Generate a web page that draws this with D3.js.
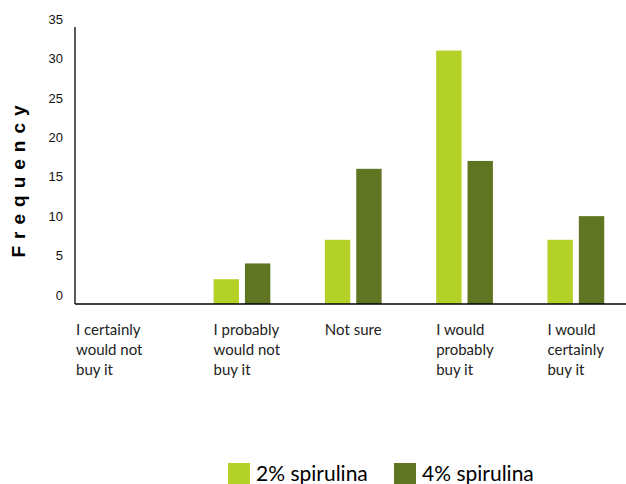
<!DOCTYPE html>
<html>
<head>
<meta charset="utf-8">
<script src="https://cdn.jsdelivr.net/npm/d3@7"></script>
<style>
  html, body { margin: 0; padding: 0; background: #fff; }
  svg { display: block; }
</style>
</head>
<body>
<svg id="chart" width="626" height="484"></svg>
<script>
// ---- data ----
const categories = [
  "I certainly would not buy it",
  "I probably would not buy it",
  "Not sure",
  "I would probably buy it",
  "I would certainly buy it"
];
const categoryLines = [
  ["I certainly", "would not", "buy it"],
  ["I probably", "would not", "buy it"],
  ["Not sure"],
  ["I would", "probably", "buy it"],
  ["I would", "certainly", "buy it"]
];
const seriesNames = ["2% spirulina", "4% spirulina"];
const spirulina2 = [0, 2, 7, 31, 7];
const spirulina4 = [0, 4, 16, 17, 10];
const yTicks = [0, 5, 10, 15, 20, 25, 30, 35];
const colors = ["#b4d128", "#5f7522"];

// ---- layout ----
const svg = d3.select("#chart");
const plotLeft = 75, plotRight = 631.5, plotTop = 27, plotBottom = 304;

const x0 = d3.scaleBand().domain(categories).range([plotLeft, plotRight])
  .paddingInner(0.49).paddingOuter(0.245);
const x1 = d3.scaleBand().domain(seriesNames).range([0, x0.bandwidth()])
  .paddingInner(0.19).paddingOuter(0);
const y = d3.scaleLinear().domain([0, 35]).range([295, 19]);

const seriesValues = [spirulina2, spirulina4];

// bars
seriesNames.forEach((s, si) => {
  svg.append("g").selectAll("rect")
    .data(categories.map((c, i) => ({c, v: seriesValues[si][i]})))
    .join("rect")
    .attr("x", d => x0(d.c) + x1(s))
    .attr("width", x1.bandwidth())
    .attr("y", d => y(d.v))
    .attr("height", d => d.v > 0 ? plotBottom - y(d.v) : 0)
    .attr("fill", colors[si]);
});

// y axis
const yAxis = d3.axisLeft(y).tickValues(yTicks).tickSize(0).tickPadding(12);
const gy = svg.append("g").attr("transform", `translate(${plotLeft},0)`).call(yAxis);
gy.select(".domain").remove();
gy.selectAll("text")
  .attr("font-family", "Liberation Sans, Arial, sans-serif")
  .attr("font-size", 13).attr("fill", "#111");

svg.append("line").attr("x1", plotLeft).attr("x2", plotLeft)
  .attr("y1", plotTop).attr("y2", plotBottom)
  .attr("stroke", "#000").attr("stroke-width", 1.3);
svg.append("line").attr("x1", plotLeft).attr("x2", 626)
  .attr("y1", plotBottom).attr("y2", plotBottom)
  .attr("stroke", "#000").attr("stroke-width", 1.5);

// y title
svg.append("text")
  .attr("transform", "translate(25,178) rotate(-90)")
  .attr("text-anchor", "middle")
  .attr("font-family", "Liberation Sans, Arial, sans-serif")
  .attr("font-weight", "bold").attr("font-size", 19)
  .attr("letter-spacing", "7px")
  .attr("fill", "#000")
  .text("Frequency");

// category labels
const lbl = svg.append("g");
categories.forEach((c, i) => {
  const lx = i === 0 ? plotLeft + 1 : x0(c) + x1(seriesNames[0]);
  const t = lbl.append("text")
    .attr("x", lx).attr("y", 335)
    .attr("font-family", "Lato, sans-serif")
    .attr("font-size", 15).attr("fill", "#222");
  categoryLines[i].forEach((ln, j) => {
    t.append("tspan").attr("x", lx).attr("dy", j === 0 ? 0 : 20).text(ln);
  });
});

// legend
const legendX = [228, 394];
seriesNames.forEach((s, i) => {
  const g = svg.append("g").attr("transform", `translate(${legendX[i]},463)`);
  g.append("rect").attr("width", 22).attr("height", 21).attr("fill", colors[i]);
  g.append("text").attr("x", 28).attr("y", 18)
    .attr("font-family", "Lato, sans-serif").attr("font-size", 21)
    .attr("fill", "#000").text(s);
});
</script>
</body>
</html>
